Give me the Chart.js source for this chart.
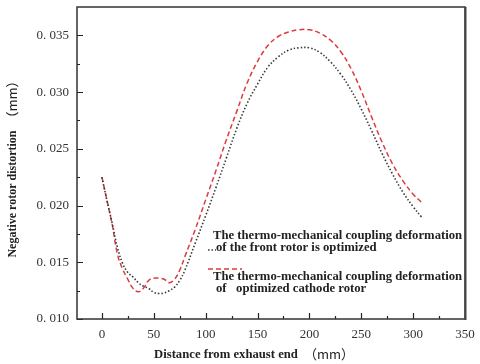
<!DOCTYPE html>
<html lang="en">
<head>
  <meta charset="UTF-8">
  <title>Negative rotor distortion</title>
  <script src="https://cdn.jsdelivr.net/npm/chart.js"></script>
  <style>
    html, body {
      margin: 0;
      padding: 0;
      background: #fff;
    }
    #wrap {
      width: 480px;
      height: 364px;
      position: relative;
    }
  </style>
</head>
<body>
<div id="wrap">
  <canvas id="rotor_chart"></canvas>
</div>

<script>
  // distance from exhaust end (mm)
  const distance = [0, 5, 10, 15, 20, 25, 30, 35, 40, 45, 50, 55, 60, 65, 70, 75, 80, 90, 100,
    110, 120, 130, 140, 150, 160, 170, 180, 190, 200, 210, 220, 230, 240, 250, 260, 270, 280, 290, 300, 308];

  // front rotor optimized (black dotted)
  const frontRotor = [0.0225, 0.0204, 0.0184, 0.0163, 0.0149, 0.0141, 0.0137, 0.0132, 0.0129, 0.0127,
    0.01235, 0.01225, 0.0123, 0.0125, 0.0128, 0.0134, 0.0143, 0.0167, 0.0191,
    0.0216, 0.0242, 0.0268, 0.0290, 0.0307, 0.0322, 0.0331, 0.0337, 0.0339, 0.0339, 0.0335,
    0.0327, 0.0316, 0.0302, 0.0285, 0.0266, 0.0246, 0.0228, 0.0212, 0.0199, 0.0190];

  // optimized cathode rotor (red dashed)
  const cathodeRotor = [0.0225, 0.0204, 0.0183, 0.0157, 0.0144, 0.0135, 0.0127, 0.0124, 0.0127, 0.0134,
    0.0136, 0.0136, 0.0135, 0.0132, 0.0135, 0.0143, 0.0155, 0.0179, 0.0205,
    0.0231, 0.0258, 0.0283, 0.0308, 0.0327, 0.0341, 0.0349, 0.0353, 0.0355, 0.0355, 0.0352,
    0.0346, 0.0336, 0.0321, 0.0301, 0.0278, 0.0256, 0.0237, 0.0222, 0.0210, 0.0203];

  const xTicks = [0, 50, 100, 150, 200, 250, 300, 350];
  const xMinor = [25, 75, 125, 175, 225, 275, 325];
  const yTicks = [0.010, 0.015, 0.020, 0.025, 0.030, 0.035];
  const yMinor = [0.0125, 0.0175, 0.0225, 0.0275, 0.0325];

  const legendText = [
    ['The thermo-mechanical coupling deformation', 'of the front rotor is optimized'],
    ['The thermo-mechanical coupling deformation', 'of   optimized cathode rotor']
  ];
  const xTitle = ['Distance from exhaust end', '（mm）'];
  const yTitle = ['Negative rotor distortion', '（mm）'];

  const serif = '"Liberation Serif", "DejaVu Serif", serif';
  const boldFont = 'bold 12.7px ' + serif;
  const yBoldFont = 'bold 12px ' + serif;
  const unitFont = '13px "Noto Sans CJK SC", ' + serif;

  function toPoints(ys) {
    return distance.map((x, i) => ({ x: x, y: ys[i] }));
  }

  // inward ticks, frame, legend and titles
  const decor = {
    id: 'decor',
    afterDatasetsDraw(chart) {
      const ctx = chart.ctx;
      const a = chart.chartArea;
      const xs = chart.scales.x;
      const ys = chart.scales.y;
      ctx.save();
      ctx.strokeStyle = '#222';
      ctx.lineWidth = 1.2;
      ctx.beginPath();
      xTicks.concat(xMinor).forEach(v => {
        const px = Math.round(xs.getPixelForValue(v)) + 0.5;
        const len = xTicks.includes(v) ? 6 : 3;
        if (px > a.left + 1 && px < a.right - 1) {
          ctx.moveTo(px, a.bottom);
          ctx.lineTo(px, a.bottom - len);
        }
      });
      yTicks.concat(yMinor).forEach(v => {
        const py = Math.round(ys.getPixelForValue(v)) + 0.5;
        const len = yTicks.includes(v) ? 6 : 3;
        ctx.moveTo(a.left, py);
        ctx.lineTo(a.left + len, py);
      });
      ctx.stroke();

      // plot frame
      ctx.lineWidth = 1.5;
      ctx.strokeStyle = '#333';
      ctx.strokeRect(a.left, a.top, a.right - a.left, a.bottom - a.top);
      ctx.lineWidth = 2;
      ctx.strokeStyle = '#444';
      ctx.beginPath();
      ctx.moveTo(a.right + 0.5, a.top);
      ctx.lineTo(a.right + 0.5, a.bottom + 1);
      ctx.stroke();

      // legend
      const ds = chart.data.datasets;
      const lx = a.left + 131;
      const rows = [a.top + 229, a.top + 270];
      ctx.font = boldFont;
      ctx.fillStyle = '#222';
      ctx.textBaseline = 'middle';
      ctx.textAlign = 'left';
      legendText.forEach((lines, i) => {
        ctx.fillText(lines[0], lx + 5, rows[i]);
        ctx.fillText(lines[1], lx + 8, rows[i] + 12);
      });
      ctx.lineWidth = 1.5;
      ctx.strokeStyle = ds[0].borderColor;
      ctx.setLineDash(ds[0].borderDash);
      ctx.beginPath();
      ctx.moveTo(lx, rows[0] + 14);
      ctx.lineTo(lx + 8, rows[0] + 14);
      ctx.stroke();
      ctx.strokeStyle = ds[1].borderColor;
      ctx.setLineDash(ds[1].borderDash);
      ctx.beginPath();
      ctx.moveTo(lx, rows[1] - 8);
      ctx.lineTo(lx + 34, rows[1] - 8);
      ctx.stroke();
      ctx.setLineDash([]);

      // axis titles: bold words + plain unit
      ctx.fillStyle = '#222';
      ctx.font = boldFont;
      const w1 = ctx.measureText(xTitle[0]).width;
      ctx.font = unitFont;
      const w2 = ctx.measureText(xTitle[1]).width;
      let sx = a.left + (a.right - a.left) / 2 - 17 - (w1 + w2 + 6) / 2;
      ctx.font = boldFont;
      ctx.fillText(xTitle[0], sx, chart.height - 9);
      ctx.font = unitFont;
      ctx.fillText(xTitle[1], sx + w1 + 6, chart.height - 10);

      ctx.translate(13, a.top + (a.bottom - a.top) / 2 + 3);
      ctx.rotate(-Math.PI / 2);
      ctx.font = yBoldFont;
      const v1 = ctx.measureText(yTitle[0]).width;
      ctx.font = unitFont;
      const v2 = ctx.measureText(yTitle[1]).width;
      let sy = -(v1 + v2 + 6) / 2;
      ctx.font = yBoldFont;
      ctx.fillText(yTitle[0], sy, 0);
      ctx.font = unitFont;
      ctx.fillText(yTitle[1], sy + v1 + 6, -1);
      ctx.restore();
    }
  };

  const ctx = document.getElementById('rotor_chart').getContext('2d');
  const rotor_chart = new Chart(ctx, {
    type: 'line',
    data: {
      datasets: [{
        label: legendText[0].join(' '),
        data: toPoints(frontRotor),
        borderColor: '#3a3a3a',
        borderWidth: 1.6,
        borderDash: [1.5, 2],
        pointRadius: 0,
        fill: false,
        tension: 0.4
      }, {
        label: legendText[1].join(' '),
        data: toPoints(cathodeRotor),
        borderColor: '#dd3a3f',
        borderWidth: 1.5,
        borderDash: [5, 3],
        pointRadius: 0,
        fill: false,
        tension: 0.4
      }]
    },
    options: {
      responsive: true,
      maintainAspectRatio: false,
      animation: false,
      layout: { padding: { top: 7, right: 15, left: 0, bottom: 0 } },
      plugins: {
        legend: { display: false },
        tooltip: { enabled: false }
      },
      scales: {
        x: {
          type: 'linear',
          min: -24,
          max: 350,
          afterFit(scale) {
            scale.height = 45;
            scale.paddingLeft = 0;
            scale.paddingRight = 0;
          },
          afterBuildTicks(scale) { scale.ticks = xTicks.map(v => ({ value: v })); },
          grid: { display: false, drawTicks: false },
          border: { display: false },
          ticks: {
            padding: 8,
            color: '#333',
            font: { family: serif, size: 13 },
            maxRotation: 0
          }
        },
        y: {
          min: 0.010,
          max: 0.0375,
          afterFit(scale) {
            scale.width = 77;
            scale.paddingTop = 0;
            scale.paddingBottom = 0;
          },
          afterBuildTicks(scale) { scale.ticks = yTicks.map(v => ({ value: v })); },
          grid: { display: false, drawTicks: false },
          border: { display: false },
          ticks: {
            padding: 8,
            color: '#333',
            font: { family: serif, size: 13 },
            callback: v => v.toFixed(3).replace('.', '. ')
          }
        }
      }
    },
    plugins: [decor]
  });
</script>
</body>
</html>
